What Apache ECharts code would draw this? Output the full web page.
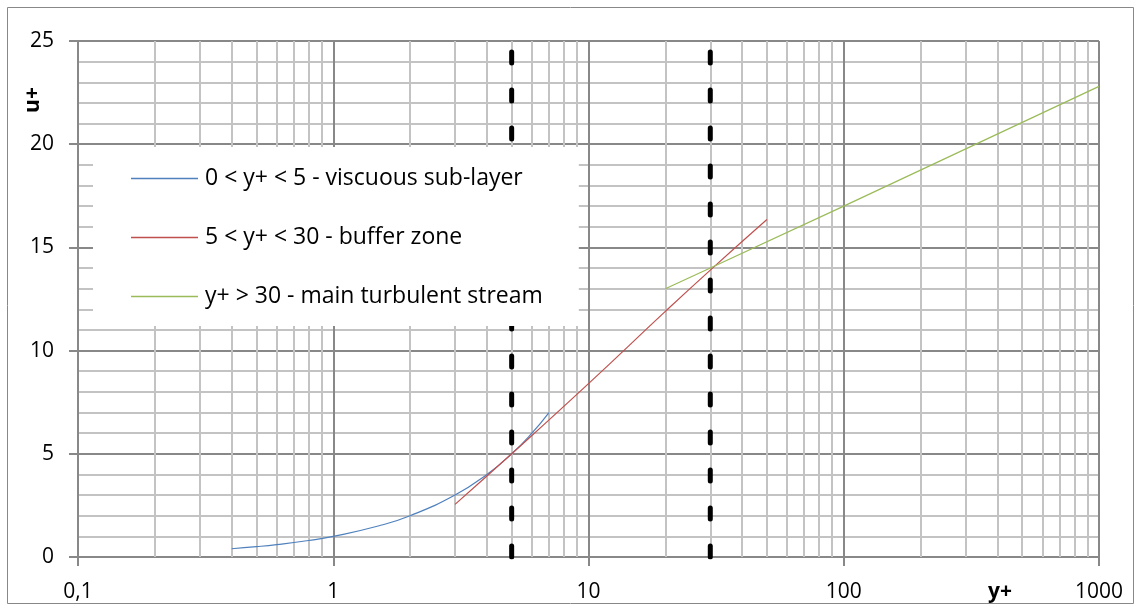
<!DOCTYPE html>
<html>
<head>
<meta charset="utf-8">
<script src="https://cdn.jsdelivr.net/npm/echarts@6/dist/echarts.min.js"></script>
<style>
  html, body { margin: 0; padding: 0; background: #fff; }
  #chart { width: 1135px; height: 610px; }
</style>
</head>
<body>
<div id="chart"></div>
<script>
// values
const viscousY = [0.4, 0.5, 0.6, 0.8, 1, 1.5, 2, 3, 4, 5, 6, 7]
const viscousU = [0.4, 0.5, 0.6, 0.8, 1, 1.5, 2, 3, 4, 5, 6, 7]
const bufferY = [3, 5, 10, 20, 30, 50]
const bufferU = [2.55, 5.0, 8.4, 11.9, 13.9, 16.35]
const turbY = [20, 30, 100, 1000]
const turbU = [13.0, 14.0, 17.0, 22.8]
const boundaryY = [5, 30]
const xTickLabels = ['0,1', '1', '10', '100', '1000']
const yTickLabels = ['0', '5', '10', '15', '20', '25']
const minorX = [0.2, 0.3, 0.4, 0.5, 0.6, 0.7, 0.8, 0.9,
  2, 3, 4, 5, 6, 7, 8, 9,
  20, 30, 40, 50, 60, 70, 80, 90,
  200, 300, 400, 500, 600, 700, 800, 900]

const names = [
  '0 < y+ < 5 - viscuous sub-layer',
  '5 < y+ < 30 - buffer zone',
  'y+ > 30 - main turbulent stream',
]
const font = 'Open Sans'
const zip = (xs, ys) => xs.map((x, i) => [x, ys[i]])

const chart = echarts.init(document.getElementById('chart'))

const series = [
  {
    name: 'minorGrid',
    type: 'line',
    data: [],
    z: 1,
    silent: true,
    markLine: {
      z: 1,
      symbol: 'none',
      silent: true,
      animation: false,
      label: { show: false },
      lineStyle: { color: '#c3c3c3', width: 2, type: 'solid' },
      emphasis: { disabled: true },
      data: minorX.map(v => ({ xAxis: v })),
    },
  },
  ...boundaryY.map(b => ({
    name: 'boundary' + b,
    type: 'line',
    data: [[b, 0], [b, 25]],
    symbol: 'none',
    silent: true,
    z: 2,
    lineStyle: { color: '#000', width: 5, type: [11, 27], cap: 'round' },
  })),
  {
    name: names[0],
    type: 'line',
    data: zip(viscousY, viscousU),
    smooth: true,
    symbol: 'none',
    z: 3,
    lineStyle: { color: '#4f81bd', width: 1.2 },
    itemStyle: { color: '#4f81bd' },
  },
  {
    name: names[1],
    type: 'line',
    data: zip(bufferY, bufferU),
    smooth: true,
    symbol: 'none',
    z: 3,
    lineStyle: { color: '#c0504d', width: 1.2 },
    itemStyle: { color: '#c0504d' },
  },
  {
    name: names[2],
    type: 'line',
    data: zip(turbY, turbU),
    symbol: 'none',
    z: 3,
    lineStyle: { color: '#9bbb59', width: 1.2 },
    itemStyle: { color: '#9bbb59' },
  },
]

chart.setOption({
  animation: false,
  textStyle: { fontFamily: font },
  grid: { left: 78, right: 36, top: 41, bottom: 53, containLabel: false },
  legend: {
    data: names,
    orient: 'vertical',
    left: 93,
    top: 147,
    padding: [20, 36, 18, 38],
    itemGap: 36,
    icon: 'rect',
    itemWidth: 67,
    itemHeight: 1.3,
    backgroundColor: '#fff',
    selectedMode: false,
    textStyle: { fontFamily: font, fontSize: 23, color: '#000', padding: [0, 0, 0, 2] },
  },
  xAxis: {
    type: 'log',
    logBase: 10,
    min: 0.1,
    max: 1000,
    axisLine: { show: true, onZero: false, lineStyle: { color: '#888', width: 2 } },
    axisTick: { show: true, length: 9, lineStyle: { color: '#888', width: 2 } },
    axisLabel: {
      margin: 25,
      fontSize: 21,
      color: '#000',
      fontFamily: font,
      formatter: (v, i) => xTickLabels[i],
    },
    splitLine: { show: true, lineStyle: { color: '#888', width: 2 } },
    minorTick: { show: false },
    minorSplitLine: { show: false },
  },
  yAxis: {
    type: 'value',
    min: 0,
    max: 25,
    interval: 5,
    axisLine: { show: true, lineStyle: { color: '#888', width: 2 } },
    axisTick: { show: true, length: 9, lineStyle: { color: '#888', width: 2 } },
    axisLabel: {
      margin: 24,
      fontSize: 21,
      color: '#000',
      fontFamily: font,
      formatter: (v, i) => yTickLabels[i],
    },
    splitLine: { show: true, lineStyle: { color: '#888', width: 2 } },
    minorTick: { show: false, splitNumber: 5 },
    minorSplitLine: { show: true, lineStyle: { color: '#c3c3c3', width: 2 } },
  },
  graphic: [
    {
      type: 'rect',
      silent: true,
      z: -10,
      shape: { x: 7.5, y: 7.5, width: 1126, height: 596 },
      style: { fill: 'none', stroke: '#888', lineWidth: 1 },
    },
    {
      type: 'text',
      x: 33,
      y: 100,
      rotation: Math.PI / 2,
      style: {
        text: 'u+',
        font: `bold 21px "${font}"`,
        fill: '#000',
        textAlign: 'center',
        textVerticalAlign: 'middle',
      },
    },
    {
      type: 'text',
      x: 1000,
      y: 592,
      style: {
        text: 'y+',
        font: `bold 21px "${font}"`,
        fill: '#000',
        textAlign: 'center',
        textVerticalAlign: 'middle',
      },
    },
  ],
  series,
})
</script>
</body>
</html>
